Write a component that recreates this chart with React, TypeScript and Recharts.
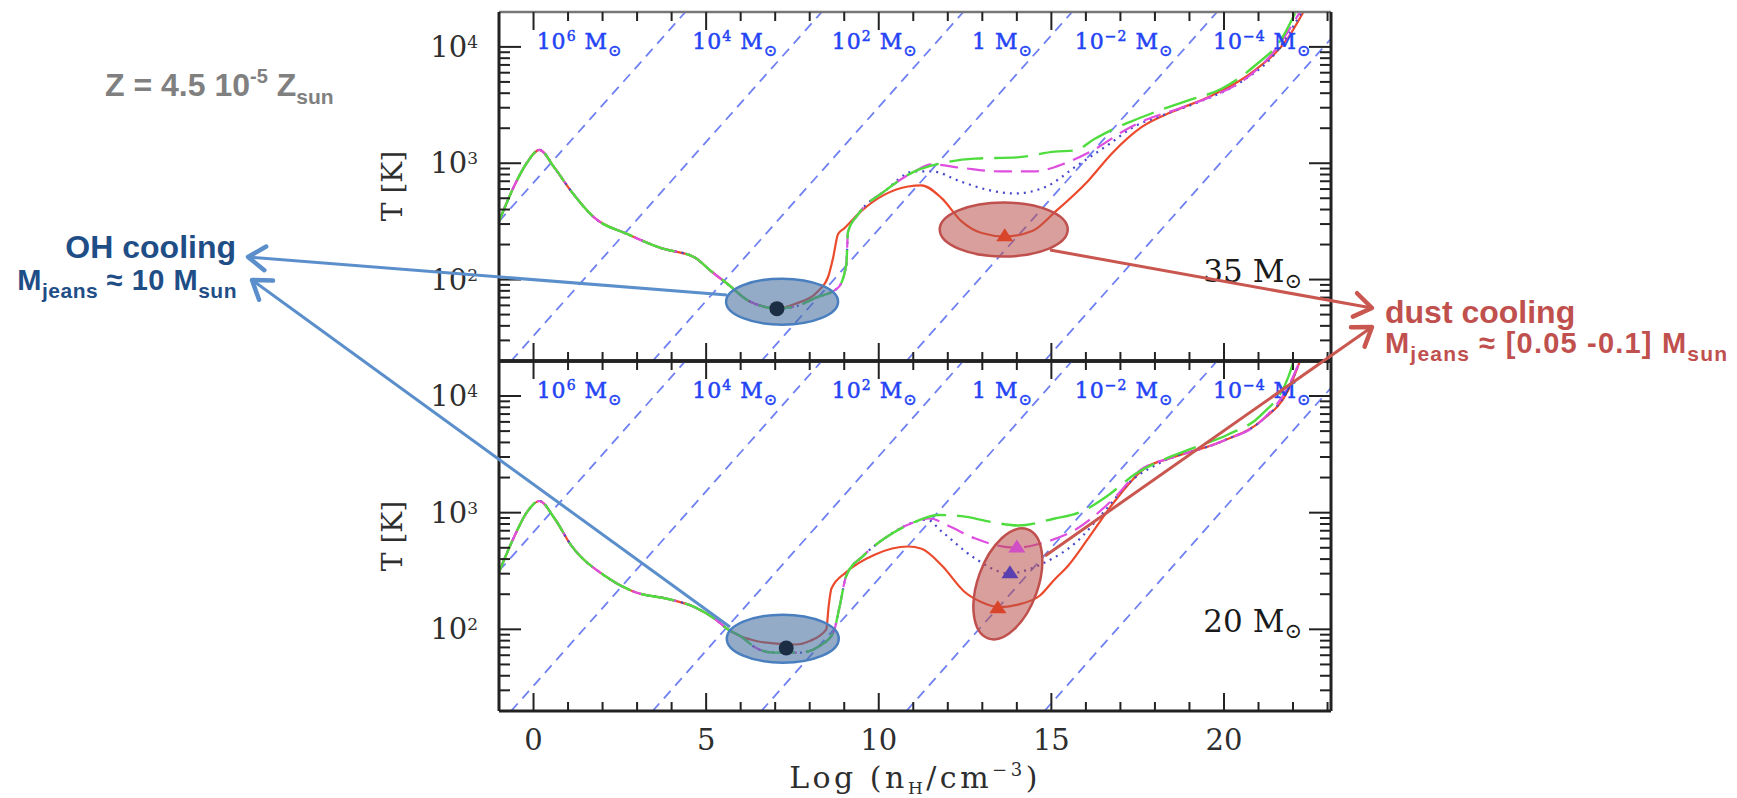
import React from "react";
import { ComposedChart, Line, Scatter, XAxis, YAxis, ReferenceDot } from "recharts";

// page + plot frame
const W = 1737;
const H = 798;
const PLOT_LEFT = 499;
const PLOT_RIGHT = 1331;
const X_DOMAIN: [number, number] = [-1, 23.1];
const Y_DOMAIN: [number, number] = [1.3, 4.3];

const SERIF = "'DejaVu Serif', serif";
const SANS = "'Liberation Sans', Arial, sans-serif";
const INK = "#2e2e2e";
const AXIS = "#222";

const RED = "#ec4a2c";
const GREEN = "#4fdc3e";
const MAGENTA = "#df4fdf";
const BLUE = "#4848cc";
const JEANS = "#6f80f2";

// axis ticks (log10 n_H and log10 T)
const xTicks = [0, 1, 2, 3, 4, 5, 6, 7, 8, 9, 10, 11, 12, 13, 14, 15, 16, 17, 18, 19, 20, 21, 22, 23];
const yDecades = [1, 2, 3, 4];
const yTicks = yDecades
  .flatMap((d) => [1, 2, 3, 4, 5, 6, 7, 8, 9].map((k) => d + Math.log10(k)))
  .filter((v) => v > 1.31 && v < 4.29);

// constant Jeans-mass lines (log n_H, log T) endpoints
const jeansStartX = [-1, -0.65, 3.45, 6.6, 10.8, 14.8];
const jeansStartT = [2.5, 1.3, 1.3, 1.3, 1.3, 1.3];
const jeansEndX = [4.4, 8.35, 12.45, 15.6, 19.8, 23.1];
const jeansEndT = [4.3, 4.3, 4.3, 4.3, 4.3, 4.07];
const jeansLabelExp = ["6", "4", "2", "", "\u22122", "\u22124"];
const jeansLabelX = [0.09, 4.6, 8.64, 12.7, 15.68, 19.68];

// ---- 35 Msun panel (log T) ----
const shared35X = [-1, -0.55, -0.2, 0.17, 0.61, 1.09, 1.77, 2.73, 3.7, 4.67, 5.15, 5.63, 6.21, 6.79, 7.05];
const shared35T = [2.5, 2.81, 3.0, 3.115, 2.96, 2.76, 2.53, 2.39, 2.27, 2.19, 2.07, 1.96, 1.82, 1.76, 1.75];
const red35X = [7.57, 8.24, 8.53, 8.68, 8.82, 9.0, 9.5, 10.17, 10.85, 11.24, 11.82, 12.4, 12.98, 13.65, 14.46, 15.1, 16.07, 16.74, 17.61, 18.48, 19.64, 20.9, 21.86, 22.3];
const red35T = [1.79, 1.9, 2.02, 2.19, 2.39, 2.44, 2.59, 2.73, 2.8, 2.81, 2.7, 2.5, 2.4, 2.37, 2.42, 2.58, 2.85, 3.08, 3.31, 3.44, 3.58, 3.8, 4.08, 4.3];
const jump35X = [7.6, 8.14, 8.82, 9.06, 9.11, 9.4, 10.17, 11.04];
const jump35T = [1.77, 1.84, 1.93, 2.13, 2.41, 2.56, 2.76, 2.93];
const green35X = [11.82, 12.78, 14.0, 15.1, 15.68, 16.26, 16.84, 17.32, 18.0, 18.97, 19.93, 20.9, 21.67, 22.06];
const green35T = [3.0, 3.04, 3.05, 3.1, 3.11, 3.21, 3.3, 3.36, 3.44, 3.54, 3.64, 3.84, 4.07, 4.29];
const magenta35X = [11.53, 12.4, 13.5, 14.5, 15.4, 16.2, 17.17, 17.8, 18.6, 19.6, 20.6, 21.5, 22.2];
const magenta35T = [2.99, 2.96, 2.93, 2.93, 3.0, 3.11, 3.29, 3.38, 3.46, 3.57, 3.72, 3.98, 4.3];
const blue35X = [11.53, 12.4, 13.17, 13.94, 14.86, 15.7, 16.7, 17.37, 18.2, 19.3, 20.5, 21.5, 22.25];
const blue35T = [2.93, 2.84, 2.77, 2.74, 2.8, 2.97, 3.17, 3.31, 3.41, 3.53, 3.7, 3.95, 4.3];

// ---- 20 Msun panel (log T) ----
const shared20X = [-1, -0.55, -0.2, 0.17, 0.61, 1.09, 2.06, 2.93, 3.9, 4.67, 5.25, 5.63, 6.0];
const shared20T = [2.49, 2.8, 3.0, 3.1, 2.95, 2.72, 2.46, 2.32, 2.26, 2.19, 2.09, 2.0, 1.94];
const red20X = [6.45, 6.94, 7.6, 8.0, 8.48, 8.55, 8.63, 9.06, 9.88, 10.85, 11.24, 11.82, 12.49, 13.0, 13.5, 14.0, 14.67, 15.1, 15.44, 16.07, 16.84, 17.7, 18.48, 19.93, 21.09, 21.86, 22.2];
const red20T = [1.9, 1.88, 1.87, 1.9, 2.0, 2.2, 2.35, 2.49, 2.64, 2.71, 2.69, 2.55, 2.32, 2.23, 2.19, 2.21, 2.29, 2.43, 2.53, 2.78, 3.1, 3.38, 3.47, 3.61, 3.79, 4.05, 4.3];
const jump20X = [6.45, 6.94, 7.71, 8.3, 8.68, 8.87, 9.06, 9.55, 10.17, 11.04];
const jump20T = [1.84, 1.8, 1.8, 1.86, 1.97, 2.2, 2.46, 2.63, 2.78, 2.92];
const green20X = [11.72, 12.4, 13.26, 14.04, 15.1, 15.8, 16.65, 17.42, 18.29, 19.16, 20.12, 21.09, 21.86, 22.02];
const green20T = [2.98, 2.97, 2.92, 2.89, 2.95, 3.0, 3.15, 3.33, 3.46, 3.56, 3.67, 3.84, 4.16, 4.3];
const magenta20X = [11.5, 12.0, 12.78, 13.94, 14.86, 15.73, 16.8, 17.6, 18.48, 19.93, 21.09, 21.86, 22.2];
const magenta20T = [2.95, 2.89, 2.78, 2.7, 2.75, 2.86, 3.12, 3.37, 3.47, 3.61, 3.79, 4.08, 4.3];
const blue20X = [11.4, 11.82, 12.78, 13.75, 14.86, 15.73, 16.5, 17.3, 18.1, 19.93, 21.09, 21.86, 22.2];
const blue20T = [2.94, 2.84, 2.61, 2.48, 2.58, 2.75, 3.0, 3.27, 3.42, 3.61, 3.79, 4.06, 4.3];

// markers (log n_H, log T)
const dot35 = [[7.05, 1.75]];
const redTri35 = [[13.65, 2.38]];
const dot20 = [[7.32, 1.84]];
const redTri20 = [[13.45, 2.19]];
const blueTri20 = [[13.8, 2.49]];
const magentaTri20 = [[14.0, 2.71]];

type Pt = { x: number; y: number };
const pts = (xs: number[], ys: number[]): Pt[] => xs.map((x, i) => ({ x, y: ys[i] }));
const pairs = (p: number[][]): Pt[] => p.map(([x, y]) => ({ x, y }));

const XTick = (props: any) => {
  const { x, y, payload, side, labels } = props;
  const v = payload.value as number;
  const major = v % 5 === 0;
  const len = major ? 18 : 9;
  const dir = side === "bottom" ? -1 : 1;
  return (
    <g>
      <line x1={x} x2={x} y1={y} y2={y + dir * len} stroke={AXIS} strokeWidth={2} />
      {labels && major && (
        <text x={x} y={y + 39} textAnchor="middle" fontFamily={SERIF} fontSize={29} fill={INK}>
          {v}
        </text>
      )}
    </g>
  );
};

const YTick = (props: any) => {
  const { x, y, payload, side, labels } = props;
  const v = payload.value as number;
  const major = Math.abs(v - Math.round(v)) < 1e-6;
  const len = major ? 22 : 11;
  const dir = side === "left" ? 1 : -1;
  return (
    <g>
      <line x1={x} x2={x + dir * len} y1={y} y2={y} stroke={AXIS} strokeWidth={2} />
      {labels && major && (
        <text x={x - 21} y={y + 10} textAnchor="end" fontFamily={SERIF} fontSize={29} fill={INK}>
          10
          <tspan dy={-9} fontSize={17}>
            {Math.round(v)}
          </tspan>
        </text>
      )}
    </g>
  );
};

const Triangle = (color: string) => (p: any) => (
  <polygon
    points={`${p.cx - 8.5},${p.cy + 6} ${p.cx + 8.5},${p.cy + 6} ${p.cx},${p.cy - 7}`}
    fill={color}
  />
);
const BlackDot = (p: any) => <circle cx={p.cx} cy={p.cy} r={7.5} fill="#1c2e44" />;

type Ell = { x: number; y: number; rx: number; ry: number; rot: number; kind: "blue" | "red" };

const EllipseShape = (e: Ell) => (p: any) => (
  <ellipse
    cx={p.cx}
    cy={p.cy}
    rx={e.rx}
    ry={e.ry}
    transform={`rotate(${e.rot} ${p.cx} ${p.cy})`}
    fill={e.kind === "blue" ? "rgba(70,110,160,0.58)" : "rgba(185,80,75,0.55)"}
    stroke={e.kind === "blue" ? "#4a7fbf" : "#c0504d"}
    strokeWidth={2.5}
  />
);

const MassLabel = (exp: string) => (p: any) => (
  <text x={p.cx} y={p.cy} fontFamily={SERIF} fontSize={22} fill="#2343f5" stroke="#2343f5" strokeWidth={0.5} letterSpacing={1}>
    {exp === "" ? (
      <tspan>1</tspan>
    ) : (
      <>
        <tspan>10</tspan>
        <tspan dy={-8} fontSize={14}>
          {exp}
        </tspan>
        <tspan dy={8}> </tspan>
      </>
    )}
    <tspan> M</tspan>
    <tspan dy={7} fontSize={16}>
      {"\u2299"}
    </tspan>
  </text>
);

const PanelLabel = (text: string) => (p: any) => (
  <text x={p.cx} y={p.cy} textAnchor="end" fontFamily={SERIF} fontSize={31} fill="#1a1a1a">
    {text} M
    <tspan dy={6} fontSize={21}>
      {"\u2299"}
    </tspan>
  </text>
);

type PanelProps = {
  top: number;
  bottom: number;
  showXLabels: boolean;
  red: Pt[];
  blue: Pt[];
  magenta: Pt[];
  green: Pt[];
  markers: { data: Pt[]; shape: any }[];
  ellipses: Ell[];
  label: string;
  topAxisColor: string;
  bottomAxisWidth: number;
  topAxisWidth: number;
};

function Panel(p: PanelProps) {
  // axes are 1px thick boxes; margins leave the plot area where we want it
  return (
    <div style={{ position: "absolute", left: 0, top: 0 }}>
      <ComposedChart
        width={W}
        height={H}
        margin={{ top: p.top - 1, bottom: H - p.bottom - 1, left: PLOT_LEFT - 1, right: W - PLOT_RIGHT - 1 }}
      >
        <XAxis
          dataKey="x"
          type="number"
          domain={X_DOMAIN}
          allowDataOverflow
          ticks={xTicks}
          interval={0}
          height={1}
          tickSize={0}
          tickMargin={0}
          tickLine={false}
          axisLine={{ stroke: AXIS, strokeWidth: p.bottomAxisWidth }}
          tick={<XTick side="bottom" labels={p.showXLabels} />}
        />
        <XAxis
          xAxisId="top"
          orientation="top"
          dataKey="x"
          type="number"
          domain={X_DOMAIN}
          allowDataOverflow
          ticks={xTicks}
          interval={0}
          height={1}
          tickSize={0}
          tickMargin={0}
          tickLine={false}
          axisLine={{ stroke: p.topAxisColor, strokeWidth: p.topAxisWidth }}
          tick={<XTick side="top" labels={false} />}
        />
        <YAxis
          type="number"
          domain={Y_DOMAIN}
          allowDataOverflow
          ticks={yTicks}
          interval={0}
          width={1}
          tickSize={0}
          tickMargin={0}
          tickLine={false}
          axisLine={{ stroke: AXIS, strokeWidth: 3 }}
          tick={<YTick side="left" labels />}
        />
        <YAxis
          yAxisId="right"
          orientation="right"
          type="number"
          domain={Y_DOMAIN}
          allowDataOverflow
          ticks={yTicks}
          interval={0}
          width={1}
          tickSize={0}
          tickMargin={0}
          tickLine={false}
          axisLine={{ stroke: AXIS, strokeWidth: 3 }}
          tick={<YTick side="right" labels={false} />}
        />

        {jeansStartX.map((x0, i) => (
          <Line
            key={`j${i}`}
            data={pts([x0, jeansEndX[i]], [jeansStartT[i], jeansEndT[i]])}
            dataKey="y"
            type="linear"
            stroke={JEANS}
            strokeWidth={1.8}
            strokeDasharray="10 7"
            dot={false}
            activeDot={false}
            isAnimationActive={false}
          />
        ))}
        {jeansLabelExp.map((e, i) => (
          <ReferenceDot key={`jl${i}`} x={jeansLabelX[i]} y={3.98} r={1} shape={MassLabel(e)} />
        ))}
        <ReferenceDot x={22.26} y={1.98} r={1} shape={PanelLabel(p.label)} />

        <Line data={p.red} dataKey="y" type="monotone" stroke={RED} strokeWidth={2.2} dot={false} activeDot={false} isAnimationActive={false} />
        <Line data={p.blue} dataKey="y" type="monotone" stroke={BLUE} strokeWidth={2.2} strokeDasharray="2 5" dot={false} activeDot={false} isAnimationActive={false} />
        <Line data={p.magenta} dataKey="y" type="monotone" stroke={MAGENTA} strokeWidth={2.2} strokeDasharray="18 9" dot={false} activeDot={false} isAnimationActive={false} />
        <Line data={p.green} dataKey="y" type="monotone" stroke={GREEN} strokeWidth={2.4} strokeDasharray="34 11" dot={false} activeDot={false} isAnimationActive={false} />

        {p.ellipses.map((e, i) => (
          <ReferenceDot key={`e${i}`} x={e.x} y={e.y} r={1} shape={EllipseShape(e)} />
        ))}
        {p.markers.map((m, i) => (
          <Scatter key={`m${i}`} data={m.data} dataKey="y" shape={m.shape} isAnimationActive={false} />
        ))}
      </ComposedChart>
    </div>
  );
}

function arrow(x1: number, y1: number, x2: number, y2: number, color: string, key: string) {
  const a = Math.atan2(y2 - y1, x2 - x1);
  const len = 21;
  const s = 0.6;
  const p1 = [x2 - len * Math.cos(a - s), y2 - len * Math.sin(a - s)];
  const p2 = [x2 - len * Math.cos(a + s), y2 - len * Math.sin(a + s)];
  return (
    <g key={key}>
      <line x1={x1} y1={y1} x2={x2} y2={y2} stroke={color} strokeWidth={3} />
      <polyline
        points={`${p1[0]},${p1[1]} ${x2},${y2} ${p2[0]},${p2[1]}`}
        fill="none"
        stroke={color}
        strokeWidth={4.5}
        strokeLinecap="round"
        strokeLinejoin="round"
      />
    </g>
  );
}

export default function App() {
  const red35 = pts([...shared35X, ...red35X], [...shared35T, ...red35T]);
  const green35 = pts([...shared35X, ...jump35X, ...green35X], [...shared35T, ...jump35T, ...green35T]);
  const magenta35 = pts([...shared35X, ...jump35X, ...magenta35X], [...shared35T, ...jump35T, ...magenta35T]);
  const blue35 = pts([...shared35X, ...jump35X, ...blue35X], [...shared35T, ...jump35T, ...blue35T]);

  const red20 = pts([...shared20X, ...red20X], [...shared20T, ...red20T]);
  const green20 = pts([...shared20X, ...jump20X, ...green20X], [...shared20T, ...jump20T, ...green20T]);
  const magenta20 = pts([...shared20X, ...jump20X, ...magenta20X], [...shared20T, ...jump20T, ...magenta20T]);
  const blue20 = pts([...shared20X, ...jump20X, ...blue20X], [...shared20T, ...jump20T, ...blue20T]);

  const BLUE_ARROW = "#5b8fcb";
  const RED_ARROW = "#c9564f";

  return (
    <div style={{ position: "absolute", left: 0, top: 0, width: W, height: H, background: "#fff", overflow: "hidden" }}>
      <Panel
        top={12}
        bottom={361}
        showXLabels={false}
        red={red35}
        blue={blue35}
        magenta={magenta35}
        green={green35}
        label="35"
        topAxisColor="#777"
        topAxisWidth={2.5}
        bottomAxisWidth={3.5}
        ellipses={[
          { x: 7.2, y: 1.81, rx: 56, ry: 23, rot: 0, kind: "blue" },
          { x: 13.62, y: 2.43, rx: 64, ry: 27, rot: 0, kind: "red" },
        ]}
        markers={[
          { data: pairs(dot35), shape: BlackDot },
          { data: pairs(redTri35), shape: Triangle("#d9452a") },
        ]}
      />
      <Panel
        top={361}
        bottom={711}
        showXLabels
        red={red20}
        blue={blue20}
        magenta={magenta20}
        green={green20}
        label="20"
        topAxisColor={AXIS}
        topAxisWidth={3.5}
        bottomAxisWidth={3}
        ellipses={[
          { x: 7.22, y: 1.92, rx: 56, ry: 24, rot: 0, kind: "blue" },
          { x: 13.74, y: 2.39, rx: 30, ry: 58, rot: 20, kind: "red" },
        ]}
        markers={[
          { data: pairs(dot20), shape: BlackDot },
          { data: pairs(redTri20), shape: Triangle("#d9452a") },
          { data: pairs(blueTri20), shape: Triangle("#5a3fb0") },
          { data: pairs(magentaTri20), shape: Triangle("#d14fc4") },
        ]}
      />

      <svg width={W} height={H} style={{ position: "absolute", left: 0, top: 0, pointerEvents: "none" }}>
        {/* axis titles */}
        <text x={0} y={0} transform="translate(402 186) rotate(-90)" textAnchor="middle" fontFamily={SERIF} fontSize={28} fill={INK}>
          T [K]
        </text>
        <text x={0} y={0} transform="translate(402 536) rotate(-90)" textAnchor="middle" fontFamily={SERIF} fontSize={28} fill={INK}>
          T [K]
        </text>
        <text x={915} y={788} textAnchor="middle" fontFamily={SERIF} fontSize={30} fill={INK} letterSpacing={3.5}>
          Log (n
          <tspan dy={6} fontSize={17}>H</tspan>
          <tspan dy={-6}>/cm</tspan>
          <tspan dy={-12} fontSize={18}>−3</tspan>
          <tspan dy={12}>)</tspan>
        </text>

        {/* metallicity */}
        <text x={105} y={96} fontFamily={SANS} fontWeight={700} fontSize={32} fill="#808080">
          Z = 4.5 10
          <tspan dy={-13} fontSize={20}>-5</tspan>
          <tspan dy={13}> Z</tspan>
          <tspan dy={8} fontSize={21}>sun</tspan>
        </text>

        {/* OH cooling note */}
        <text x={236} y={258} textAnchor="end" fontFamily={SANS} fontWeight={700} fontSize={32} fill="#1f4e87">
          OH cooling
        </text>
        <text x={237} y={290} textAnchor="end" fontFamily={SANS} fontWeight={700} fontSize={29} fill="#1f4e87" letterSpacing={0.5}>
          M
          <tspan dy={8} fontSize={21}>jeans</tspan>
          <tspan dy={-8}> ≈ 10 M</tspan>
          <tspan dy={8} fontSize={21}>sun</tspan>
        </text>

        {/* dust cooling note */}
        <text x={1385} y={323} fontFamily={SANS} fontWeight={700} fontSize={32} fill="#c0504d">
          dust cooling
        </text>
        <text x={1385} y={353} fontFamily={SANS} fontWeight={700} fontSize={29} fill="#c0504d" letterSpacing={1.2}>
          M
          <tspan dy={8} fontSize={21}>jeans</tspan>
          <tspan dy={-8}> ≈ [0.05 -0.1] M</tspan>
          <tspan dy={8} fontSize={21}>sun</tspan>
        </text>

        {arrow(727, 295, 248, 257, BLUE_ARROW, "a1")}
        {arrow(730, 627, 252, 280, BLUE_ARROW, "a2")}
        {arrow(1050, 250, 1372, 308, RED_ARROW, "a3")}
        {arrow(1045, 556, 1372, 327, RED_ARROW, "a4")}
      </svg>
    </div>
  );
}
